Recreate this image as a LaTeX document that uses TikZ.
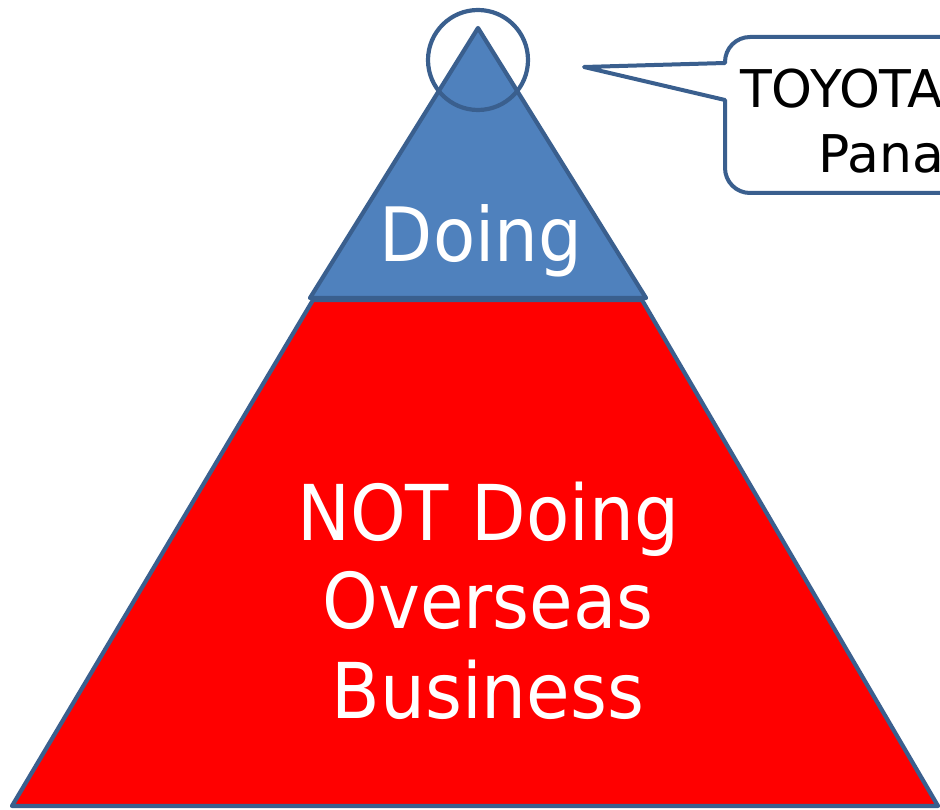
\documentclass[tikz,border=0pt]{standalone}
\usepackage{fontspec}
\setmainfont{DejaVu Sans}
\newfontfamily\bigfont[FakeStretch=0.92]{DejaVu Sans}
\newfontfamily\callfont{DejaVu Sans}
\definecolor{edgeblue}{HTML}{3A5F8E}
\definecolor{fillblue}{HTML}{4F81BD}
\definecolor{fillred}{HTML}{FF0000}
\begin{document}
\begin{tikzpicture}[x=1pt,y=1pt,
  shapeline/.style={draw=edgeblue,line width=4.2pt,line join=round},
  whitetext/.style={text=white,inner sep=0pt,anchor=base},
  calltext/.style={text=black,inner sep=0pt,anchor=base west,font=\callfont\fontsize{52}{52}\selectfont}]
\useasboundingbox (0,0) rectangle (940,809);
\clip (0,0) rectangle (940,809);
% red trapezoid
\draw[shapeline,fill=fillred] (313,509) -- (642,509) -- (938,3) -- (12,3) -- cycle;
% blue top triangle
\draw[shapeline,fill=fillblue] (478,781) -- (646,511) -- (310,511) -- cycle;
% circle round the apex
\draw[shapeline] (478,749) circle[radius=50];
% callout
\draw[shapeline,line width=4pt,fill=white] (725,746) -- (584,742) -- (725,709) -- (725,641)
  arc[start angle=180,end angle=270,radius=25] -- (1000,616) -- (1000,772) -- (750,772)
  arc[start angle=90,end angle=180,radius=25] -- cycle;
\node[calltext] (toyota) at (740,701) {TOYOTA};
\node[calltext] (pana) at (818,636) {Pana};
% texts
\node[whitetext,font=\bigfont\fontsize{75}{75}\selectfont] (doing) at (481,547) {Doing};
\node[whitetext,font=\bigfont\fontsize{77}{77}\selectfont] (l1) at (488,268) {NOT Doing};
\node[whitetext,font=\bigfont\fontsize{77}{77}\selectfont] (l2) at (488,180) {Overseas};
\node[whitetext,font=\bigfont\fontsize{77}{77}\selectfont] (l3) at (488,90) {Business};
\end{tikzpicture}
\end{document}
